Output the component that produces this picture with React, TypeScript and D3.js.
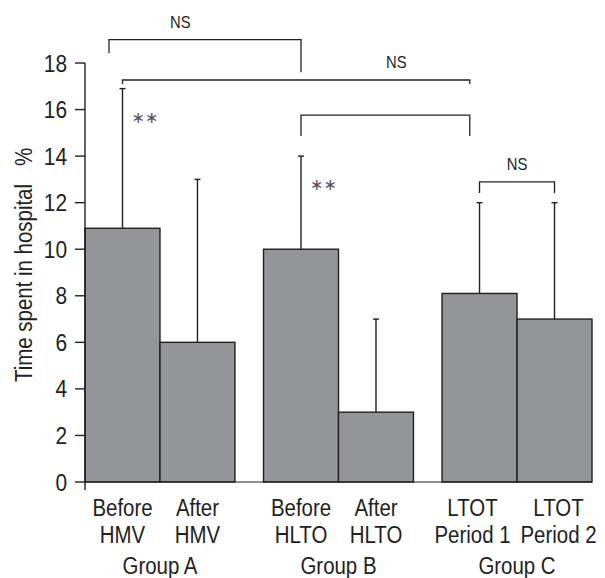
import React from "react";
import * as d3 from "d3";

const width = 605;
const height = 578;

// bar data, left to right
const labelTop = ["Before", "After", "Before", "After", "LTOT", "LTOT"];
const labelBottom = ["HMV", "HMV", "HLTO", "HLTO", "Period 1", "Period 2"];
const groups = ["Group A", "Group B", "Group C"];
const groupOf = [0, 0, 1, 1, 2, 2];
const means = [10.9, 6.0, 10.0, 3.0, 8.1, 7.0];
const upper = [16.9, 13, 14, 7, 12, 12];
const starred = [0, 2];
const yTicks = [0, 2, 4, 6, 8, 10, 12, 14, 16, 18];

// significance brackets: bar index + fraction of bar width, heights in % units
const brackets = [
  { from: 0, fromFrac: 0.32, to: 2, toFrac: 0.5, top: 19.0, leftEnd: 18.43, rightEnd: 17.6, labelBar: 1, labelFrac: 0.27 },
  { from: 0, fromFrac: 0.5, to: 4, toFrac: 0.37, top: 17.27, leftEnd: 17.1, rightEnd: 17.1, labelBar: 3, labelFrac: 0.77 },
  { from: 2, fromFrac: 0.5, to: 4, toFrac: 0.37, top: 15.76, leftEnd: 14.86, rightEnd: 14.86, labelBar: null, labelFrac: 0 },
  { from: 4, fromFrac: 0.5, to: 5, toFrac: 0.5, top: 12.89, leftEnd: 12.41, rightEnd: 12.41, labelBar: 5, labelFrac: 0 },
];

const margin = { left: 85, right: 13, top: 63, bottom: 96 };
const ink = "#231f20";
const barFill = "#939598";
const font = "'Liberation Sans', Arial, sans-serif";
const squeeze = 0.87; // the original type is a condensed grotesque
// the "Period" labels sit a little apart in the original
const labelShift: Record<number, number> = { 4: -7, 5: 4 };

const CText = ({ x, y, size, anchor = "middle", rotate = 0, children }: any) => (
  <text
    transform={`translate(${x},${y}) rotate(${rotate}) scale(${squeeze},1)`}
    textAnchor={anchor}
    fontFamily={font}
    fontSize={size}
    fill={ink}
  >
    {children}
  </text>
);

const App = () => {
  const y = d3
    .scaleLinear()
    .domain([0, 18])
    .range([height - margin.bottom, margin.top]);

  const xGroup = d3
    .scaleBand<number>()
    .domain(d3.range(groups.length))
    .range([margin.left, width - margin.right])
    .paddingInner(0.16)
    .paddingOuter(0);

  const xInner = d3.scaleBand<number>().domain([0, 1]).range([0, xGroup.bandwidth()]).padding(0);
  const bw = xInner.bandwidth();

  const barX = (i: number) => (xGroup(groupOf[i]) as number) + (xInner(i % 2) as number);
  const at = (i: number, frac: number) => barX(i) + frac * bw;

  const y0 = y(0);

  return (
    <svg width={width} height={height} style={{ position: "absolute", left: 0, top: 0 }}>
      <rect width={width} height={height} fill="#fff" />

      {/* bars */}
      {means.map((m, i) => (
        <rect
          key={i}
          x={barX(i)}
          y={y(m)}
          width={bw}
          height={y0 - y(m)}
          fill={barFill}
          stroke={ink}
          strokeWidth={1.4}
        />
      ))}

      {/* error bars, upward only */}
      {upper.map((u, i) => (
        <g key={i} stroke={ink} strokeWidth={1.4}>
          <line x1={at(i, 0.5)} x2={at(i, 0.5)} y1={y(means[i])} y2={y(u)} />
          <line x1={at(i, 0.5) - 3} x2={at(i, 0.5) + 3} y1={y(u)} y2={y(u)} />
        </g>
      ))}

      {/* axes */}
      <line x1={margin.left} x2={margin.left} y1={y(18)} y2={y0 + 8} stroke={ink} strokeWidth={1.4} />
      <line x1={margin.left} x2={width - margin.right} y1={y0} y2={y0} stroke={ink} strokeWidth={1.2} />
      {yTicks.map((t) => (
        <g key={t}>
          <line x1={margin.left - 10} x2={margin.left} y1={y(t)} y2={y(t)} stroke={ink} strokeWidth={1.4} />
          <CText x={margin.left - 18} y={y(t) + 8.5} size={24} anchor="end">
            {t}
          </CText>
        </g>
      ))}

      <CText x={32} y={283} size={23.5} rotate={-90}>
        Time spent in hospital
      </CText>
      <CText x={32} y={157} size={23.5} rotate={-90}>
        %
      </CText>

      {/* category labels */}
      {labelTop.map((l, i) => (
        <g key={i}>
          <CText x={at(i, 0.5) + (labelShift[i] ?? 0)} y={516} size={23.5}>
            {l}
          </CText>
          <CText x={at(i, 0.5) + (labelShift[i] ?? 0)} y={543} size={23.5}>
            {labelBottom[i]}
          </CText>
        </g>
      ))}
      {groups.map((g, gi) => (
        <CText key={g} x={(xGroup(gi) as number) + xGroup.bandwidth() / 2} y={574} size={23.5}>
          {g}
        </CText>
      ))}

      {/* asterisks */}
      {starred.map((i) => (
        <text
          key={i}
          x={at(i, 0.5) + 9}
          y={y(upper[i]) + 29 + 5}
          fontFamily="'DejaVu Sans', sans-serif"
          fontSize={16}
          fill="#555"
        >
          ∗∗
        </text>
      ))}

      {/* significance brackets */}
      {brackets.map((b, k) => {
        const x1 = at(b.from, b.fromFrac);
        const x2 = at(b.to, b.toFrac);
        return (
          <g key={k}>
            <path
              d={`M${x1},${y(b.leftEnd)}V${y(b.top)}H${x2}V${y(b.rightEnd)}`}
              fill="none"
              stroke={ink}
              strokeWidth={1.3}
            />
            {b.labelBar !== null && (
              <CText x={at(b.labelBar, b.labelFrac)} y={y(b.top) - 12} size={17}>
                NS
              </CText>
            )}
          </g>
        );
      })}
    </svg>
  );
};

export default App;
